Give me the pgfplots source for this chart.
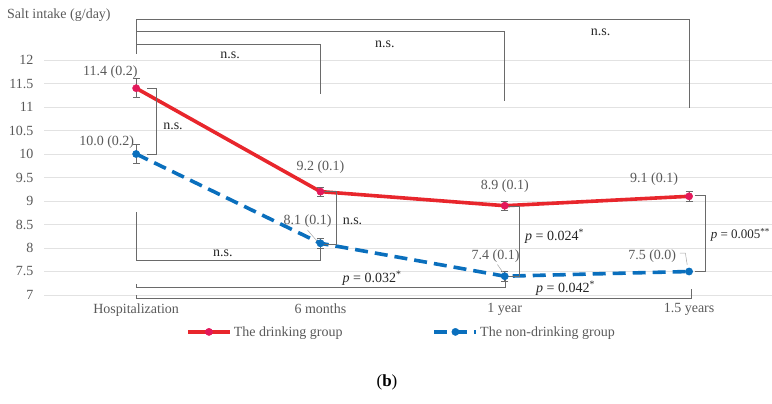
\documentclass[border=0pt]{standalone}
\usepackage{fontspec}
\setmainfont{Liberation Serif}
\usepackage{pgfplots}
\pgfplotsset{compat=1.18}

\definecolor{drink}{HTML}{E8262C}
\definecolor{drinkmark}{HTML}{E3185A}
\definecolor{nondrink}{HTML}{0A6FBD}
\definecolor{txt}{HTML}{595959}
\definecolor{gridc}{HTML}{E2E2E2}
\definecolor{brk}{HTML}{6A6A6A}

% mean salt intake (g/day) and its standard error
\pgfplotstableread{
x y e
0 11.4 0.2
1 9.2 0.1
2 8.9 0.1
3 9.1 0.1
}\drinking
\pgfplotstableread{
x y e
0 10.0 0.2
1 8.1 0.1
2 7.4 0.1
3 7.5 0.0
}\nondrinking

\newcommand{\lbl}{\fontsize{14bp}{16bp}\selectfont}

\begin{document}
\begin{tikzpicture}[x=1bp,y=1bp]
\path[use as bounding box] (0,0) rectangle (772,403);
\node[anchor=west, text=txt, font=\lbl, inner sep=0] at (7,388) {Salt intake (g/day)};
\node[font=\fontsize{17bp}{19bp}\selectfont, inner sep=0] at (387,21) {(\textbf{b})};

\begin{axis}[
  at={(44bp,108bp)}, anchor=south west,
  scale only axis, width=728bp, height=235bp,
  xmin=-0.5, xmax=3.45, ymin=7, ymax=12,
  ytick={7,7.5,8,8.5,9,9.5,10,10.5,11,11.5,12},
  xtick={0,1,2,3},
  xticklabels={Hospitalization,6 months,1 year,1.5 years},
  ymajorgrids, grid style={gridc, line width=0.8bp},
  axis line style={draw=none},
  major tick length=0pt,
  tick label style={text=txt, font=\lbl},
  /pgf/number format/assume math mode=true,
  yticklabel style={xshift=-7bp},
  xticklabel style={yshift=-5bp},
  clip=false,
  legend style={at={(0.491,-0.157)}, anchor=center, draw=none, fill=none,
    legend columns=2, font=\lbl, text=txt, inner sep=0pt,
    /tikz/every even column/.append style={column sep=88bp}},
  legend image code/.code={%
    \draw[#1, mark repeat=2, mark phase=2]
      plot coordinates {(0bp,0bp) (21bp,0bp) (42bp,0bp)};},
]

\addplot[drink, line width=3.6bp, mark=*, mark size=3.6bp,
  mark options={drinkmark, solid, line width=0.5bp},
  error bars/.cd, y dir=both, y explicit,
  error bar style={brk, line width=0.7bp, solid},
  error mark options={rotate=90, mark size=3.5bp, brk, line width=0.7bp}]
  table[x=x, y=y, y error=e] {\drinking};
\addlegendentry{The drinking group}

\addplot[nondrink, line width=3.6bp, dash pattern=on 13bp off 7bp,
  mark=*, mark size=3.6bp, mark options={nondrink, solid, line width=0.5bp},
  error bars/.cd, y dir=both, y explicit,
  error bar style={brk, line width=0.7bp, solid},
  error mark options={rotate=90, mark size=3.5bp, brk, line width=0.7bp}]
  table[x=x, y=y, y error=e] {\nondrinking};
\addlegendentry{The non-drinking group}

% value labels: mean (SE)
\begin{scope}[every node/.style={text=txt, font=\lbl, inner sep=0}]
\node at (axis cs:-0.14,11.75) {11.4 (0.2)};
\node at (axis cs:-0.16,10.26) {10.0 (0.2)};
\node at (axis cs:1.0,9.72) {9.2 (0.1)};
\node at (axis cs:0.93,8.57) {8.1 (0.1)};
\node at (axis cs:2.0,9.31) {8.9 (0.1)};
\node at (axis cs:1.95,7.83) {7.4 (0.1)};
\node at (axis cs:2.81,9.46) {9.1 (0.1)};
\node at (axis cs:2.80,7.83) {7.5 (0.0)};
\end{scope}
\draw[gray!70, line width=0.5bp] (axis cs:0.93,8.38) -- (axis cs:0.985,8.13);
\draw[gray!70, line width=0.5bp] (axis cs:1.96,7.65) -- (axis cs:1.99,7.48);
\draw[gray!70, line width=0.5bp] (axis cs:2.95,7.89) -- (axis cs:2.98,7.89) -- (axis cs:2.99,7.64);

% comparison brackets
\begin{scope}[brk, line width=0.8bp]
% between time points, drinking group (above the plot)
\draw (axis cs:0,12.13) -- (axis cs:0,12.34) -- (axis cs:1,12.34) -- (axis cs:1,11.28);
\draw (axis cs:0,12.34) -- (axis cs:0,12.60) -- (axis cs:2,12.60) -- (axis cs:2,11.13);
\draw (axis cs:0,12.60) -- (axis cs:0,12.87) -- (axis cs:3,12.87) -- (axis cs:3,10.98);
% between groups at each time point
\draw (axis cs:0.06,11.4) -- (axis cs:0.11,11.4) -- (axis cs:0.11,10.0) -- (axis cs:0.06,10.0);
\draw (axis cs:1.0,9.2) -- (axis cs:1.087,9.2) -- (axis cs:1.087,8.07) -- (axis cs:1.01,8.07);
\draw (axis cs:2.0,8.89) -- (axis cs:2.08,8.89) -- (axis cs:2.08,7.40) -- (axis cs:2.01,7.40);
\draw (axis cs:3.03,9.12) -- (axis cs:3.09,9.12) -- (axis cs:3.09,7.51) -- (axis cs:3.03,7.51);
% between time points, non-drinking group (below the plot)
\draw (axis cs:0,8.76) -- (axis cs:0,7.74) -- (axis cs:1,7.74) -- (axis cs:1,8.05);
\draw (axis cs:0,7.23) -- (axis cs:0,7.17) -- (axis cs:2.005,7.17) -- (axis cs:2.005,7.34);
\draw (axis cs:0,7.0) -- (axis cs:0,6.92) -- (axis cs:3.01,6.92) -- (axis cs:3.01,7.13);
\end{scope}

\begin{scope}[every node/.style={text=black!85, font=\lbl, inner sep=0}]
\node at (axis cs:0.51,12.10) {n.s.};
\node at (axis cs:1.35,12.34) {n.s.};
\node at (axis cs:2.52,12.60) {n.s.};
\node at (axis cs:0.20,10.60) {n.s.};
\node[anchor=west] at (axis cs:1.12,8.57) {n.s.};
\node at (axis cs:0.47,7.88) {n.s.};
\node[anchor=west] at (axis cs:2.11,8.25) {\textit{p} = 0.024\textsuperscript{*}};
\node[anchor=east, font=\fontsize{13bp}{15bp}\selectfont] at (axis cs:3.44,8.28) {\textit{p} = 0.005\textsuperscript{**}};
\node at (axis cs:1.28,7.35) {\textit{p} = 0.032\textsuperscript{*}};
\node at (axis cs:2.33,7.15) {\textit{p} = 0.042\textsuperscript{*}};
\end{scope}
\end{axis}
\end{tikzpicture}
\end{document}
